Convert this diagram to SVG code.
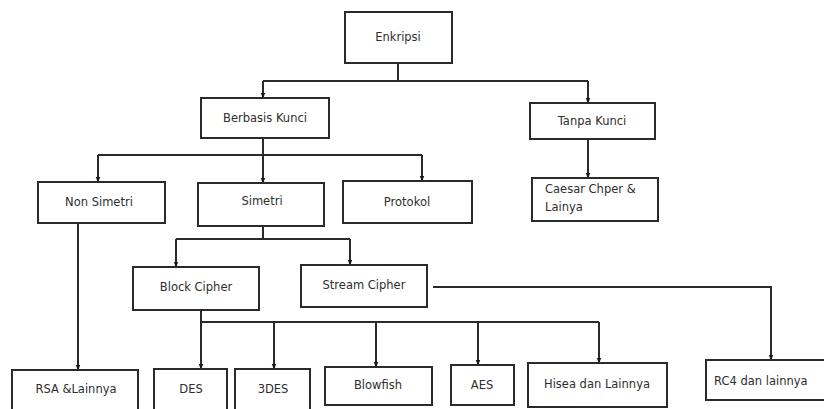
<svg xmlns="http://www.w3.org/2000/svg" width="824" height="409" viewBox="0 0 824 409">
<style>
.box{fill:#fff;stroke:#2a2a2a;stroke-width:2}
.t{font-family:"DejaVu Sans","Liberation Sans",sans-serif;font-size:11.5px;fill:#2e2e2e;text-anchor:middle}
.tl{font-family:"DejaVu Sans","Liberation Sans",sans-serif;font-size:11.5px;fill:#2e2e2e}
.c{fill:none;stroke:#2a2a2a;stroke-width:2}
.a{marker-end:url(#ar)}
</style>
<defs>
<marker id="ar" viewBox="0 0 10 10" refX="9" refY="5" markerWidth="6" markerHeight="6" markerUnits="userSpaceOnUse" orient="auto">
<path d="M0,1 L10,5 L0,9 Z" fill="#1a1a1a"/>
</marker>
</defs>
<rect width="824" height="409" fill="#fff"/>
<g id="connectors">
<path class="c" d="M398,63 V81 M263,81 H588"/>
<path class="c a" d="M263,81 V98"/>
<path class="c a" d="M588,81 V103"/>
<path class="c" d="M263,138 V155 M98,155 H422"/>
<path class="c a" d="M98,155 V182"/>
<path class="c a" d="M263,155 V183"/>
<path class="c a" d="M422,155 V181"/>
<path class="c a" d="M588,139 V178"/>
<path class="c a" d="M78,223 V370"/>
<path class="c" d="M263,226 V239 M176,239 H350"/>
<path class="c a" d="M176,239 V267"/>
<path class="c a" d="M350,239 V265"/>
<path class="c" d="M201,310 V322 M201,322 H599"/>
<path class="c a" d="M201,322 V369"/>
<path class="c a" d="M274,322 V369"/>
<path class="c a" d="M376,322 V367"/>
<path class="c a" d="M478,322 V365"/>
<path class="c a" d="M599,322 V363"/>
<path class="c a" d="M433,287 H771 V360"/>
</g>
<g id="enkripsi"><rect class="box" x="345" y="12" width="107" height="51"/><text class="t" x="398" y="41">Enkripsi</text></g>
<g id="berbasis-kunci"><rect class="box" x="201" y="98" width="128" height="40"/><text class="t" x="265" y="122">Berbasis Kunci</text></g>
<g id="tanpa-kunci"><rect class="box" x="530" y="103" width="125" height="36"/><text class="t" x="592" y="125">Tanpa Kunci</text></g>
<g id="non-simetri"><rect class="box" x="38" y="182" width="127" height="41"/><text class="t" x="99" y="206">Non Simetri</text></g>
<g id="simetri"><rect class="box" x="198" y="183" width="126" height="43"/><text class="t" x="262" y="205">Simetri</text></g>
<g id="protokol"><rect class="box" x="343" y="181" width="129" height="42"/><text class="t" x="407" y="206">Protokol</text></g>
<g id="caesar"><rect class="box" x="532" y="178" width="126" height="43"/><text class="tl" x="545" y="193">Caesar Chper &amp;</text><text class="tl" x="545" y="211">Lainya</text></g>
<g id="block-cipher"><rect class="box" x="133" y="267" width="126" height="43"/><text class="t" x="196" y="291">Block Cipher</text></g>
<g id="stream-cipher"><rect class="box" x="301" y="265" width="126" height="42"/><text class="t" x="364" y="289">Stream Cipher</text></g>
<g id="rsa"><rect class="box" x="12" y="370" width="126" height="45"/><text class="t" x="76" y="393">RSA &amp;Lainnya</text></g>
<g id="des"><rect class="box" x="154" y="369" width="73" height="46"/><text class="t" x="191" y="393">DES</text></g>
<g id="3des"><rect class="box" x="235" y="369" width="75" height="46"/><text class="t" x="273" y="393">3DES</text></g>
<g id="blowfish"><rect class="box" x="325" y="367" width="107" height="38"/><text class="t" x="378" y="389">Blowfish</text></g>
<g id="aes"><rect class="box" x="451" y="365" width="63" height="40"/><text class="t" x="482" y="389">AES</text></g>
<g id="hisea"><rect class="box" x="528" y="363" width="139" height="44"/><text class="t" x="597" y="388">Hisea dan Lainnya</text></g>
<g id="rc4"><rect class="box" x="706" y="360" width="125" height="40"/><text class="tl" x="714" y="385">RC4 dan lainnya</text></g>
</svg>
